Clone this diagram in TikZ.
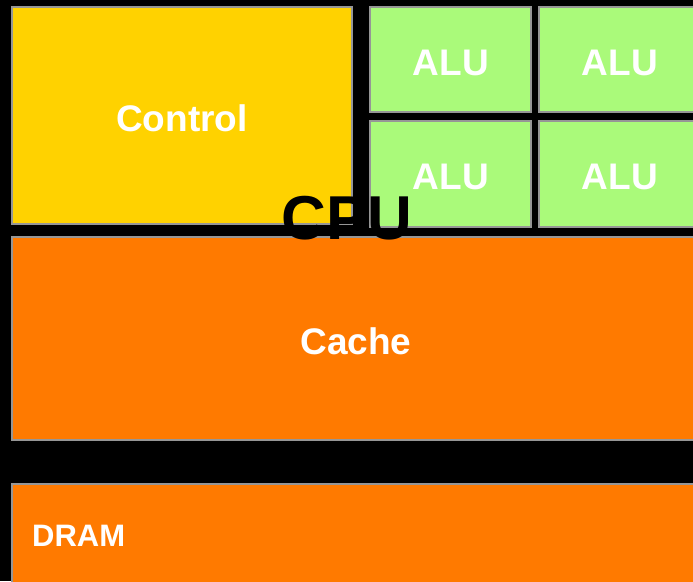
\documentclass[tikz,border=0pt]{standalone}
\usepackage{fontspec}
\setmainfont{Liberation Sans}
\definecolor{ctrlyellow}{RGB}{255,210,0}
\definecolor{alugreen}{RGB}{170,250,122}
\definecolor{cacheorange}{RGB}{255,122,0}
\definecolor{boxgrey}{RGB}{150,150,150}
\begin{document}
\begin{tikzpicture}[x=1pt,y=-1pt,
  box/.style={draw=boxgrey, line width=2pt},
  lbl/.style={text=white, font=\fontsize{37}{40}\selectfont\bfseries, anchor=base, inner sep=0pt},
  dramlbl/.style={text=white, font=\fontsize{31}{34}\selectfont\bfseries, anchor=base west, inner sep=0pt},
  cpulbl/.style={text=black, font=\fontsize{62}{66}\selectfont\bfseries, anchor=base, inner sep=0pt}]
\fill[black] (0,0) rectangle (693,581);
\useasboundingbox (0,0) rectangle (693,581);
\clip (0,0) rectangle (693,581);
\draw[box, fill=ctrlyellow] (12,7) rectangle (352,224);
\draw[box, fill=alugreen] (370,7) rectangle (531,112);
\draw[box, fill=alugreen] (539,7) rectangle (720,112);
\draw[box, fill=alugreen] (370,121) rectangle (531,227);
\draw[box, fill=alugreen] (539,121) rectangle (720,227);
\draw[box, fill=cacheorange] (12,237) rectangle (720,440);
\draw[box, fill=cacheorange] (12,484) rectangle (720,620);
\node[lbl] (control) at (182,131) {Control};
\node[lbl] (alu1) at (451,75) {ALU};
\node[lbl] (alu2) at (620,75) {ALU};
\node[lbl] (alu3) at (451,189) {ALU};
\node[lbl] (alu4) at (620,189) {ALU};
\node[lbl] (cache) at (356,354) {Cache};
\node[dramlbl] (dram) at (32,546) {DRAM};
\node[cpulbl] (cpu) at (347,239) {CPU};
\end{tikzpicture}
\end{document}
